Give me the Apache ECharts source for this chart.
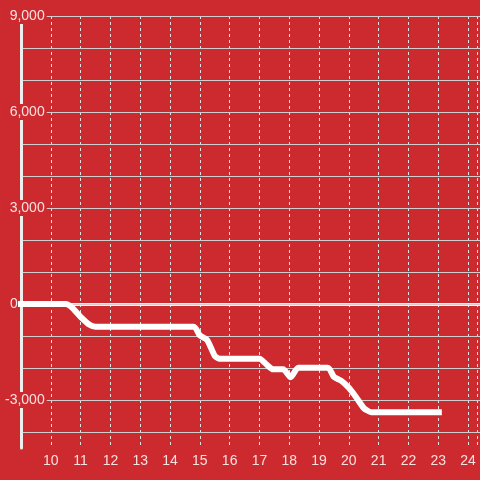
<!DOCTYPE html>
<html>
<head>
<meta charset="utf-8">
<script src="https://cdn.jsdelivr.net/npm/echarts@6/dist/echarts.min.js"></script>
<style>
  html, body { margin: 0; padding: 0; background: #cc2a2e; }
  #chart { width: 480px; height: 480px; }
</style>
</head>
<body>
<div id="chart"></div>
<script>
// hours of the day and the running value at each hour
const hours = [8.88, 10.5, 10.7, 11, 11.3, 11.5, 14.8, 15, 15.25, 15.5, 15.65, 17, 17.25, 17.45, 17.8, 18.05, 18.3, 19.3, 19.5, 19.75, 20, 20.25, 20.5, 20.75, 23.12];
const values = [0, 0, -100, -400, -650, -710, -710, -980, -1130, -1620, -1710, -1710, -1900, -2040, -2040, -2290, -1990, -1990, -2280, -2400, -2620, -2920, -3250, -3380, -3380];
const xTicks = [10, 11, 12, 13, 14, 15, 16, 17, 18, 19, 20, 21, 22, 23, 24];
const yTickLabels = [9000, 6000, 3000, 0, -3000];

const bg = '#cc2a2e';
const textColor = 'rgba(255,255,255,0.86)';
const font = 'Liberation Sans';

function fmt(v) {
  const s = String(Math.abs(v)).replace(/\B(?=(\d{3})+(?!\d))/g, ',');
  return (v < 0 ? '-' : '') + s;
}

const chart = echarts.init(document.getElementById('chart'));

const option = {
  backgroundColor: bg,
  animation: false,
  grid: [
    { left: 21, right: 0, top: 16, bottom: 32 },
    { left: 21, right: 0, top: 16, bottom: 48 }
  ],
  xAxis: [
    {
      gridIndex: 0, type: 'value', min: 9, max: 24.3, interval: 1,
      axisLine: { show: false }, axisTick: { show: false },
      axisLabel: {
        color: textColor, fontFamily: font, fontSize: 14, margin: 6,
        formatter: v => (xTicks.indexOf(v) >= 0 ? String(v) : '')
      },
      splitLine: { show: true, lineStyle: { color: '#e2e2e2', width: 1, type: [3, 3] } }
    },
    {
      gridIndex: 1, type: 'value', min: 9, max: 24.3,
      axisLine: { show: true, onZero: true, lineStyle: { color: '#eeeeee', width: 3 } },
      axisTick: { show: false }, axisLabel: { show: false }, splitLine: { show: false }
    }
  ],
  yAxis: [
    {
      gridIndex: 0, type: 'value', min: -4500, max: 9000,
      axisLine: { show: true, lineStyle: { color: '#eeeeee', width: 3 } },
      axisTick: { show: false }, axisLabel: { show: false }, splitLine: { show: false }
    },
    {
      gridIndex: 1, type: 'value', min: -4000, max: 9000, interval: 1000, z: 3,
      axisLine: { show: false }, axisTick: { show: false },
      splitLine: { show: true, lineStyle: { color: '#cfcfcf', width: 1 } },
      axisLabel: {
        margin: -24, color: textColor, fontFamily: font, fontSize: 14,
        formatter: v => {
          if (yTickLabels.indexOf(v) < 0) return '';
          return v === 0 ? '{z|0}' : '{a|' + fmt(v) + '}';
        },
        rich: {
          a: { color: textColor, fontFamily: font, fontSize: 14, backgroundColor: bg, padding: [1, 2, 1, 2] },
          z: { color: textColor, fontFamily: font, fontSize: 14, padding: [1, 29, 1, 0] }
        }
      }
    }
  ],
  series: [
    {
      type: 'line',
      xAxisIndex: 0, yAxisIndex: 0,
      data: hours.map((h, i) => [h, values[i]]),
      smooth: 0.2,
      symbol: 'none',
      clip: false,
      z: 10,
      lineStyle: { color: '#ffffff', width: 6 }
    }
  ]
};

chart.setOption(option);
</script>
</body>
</html>
